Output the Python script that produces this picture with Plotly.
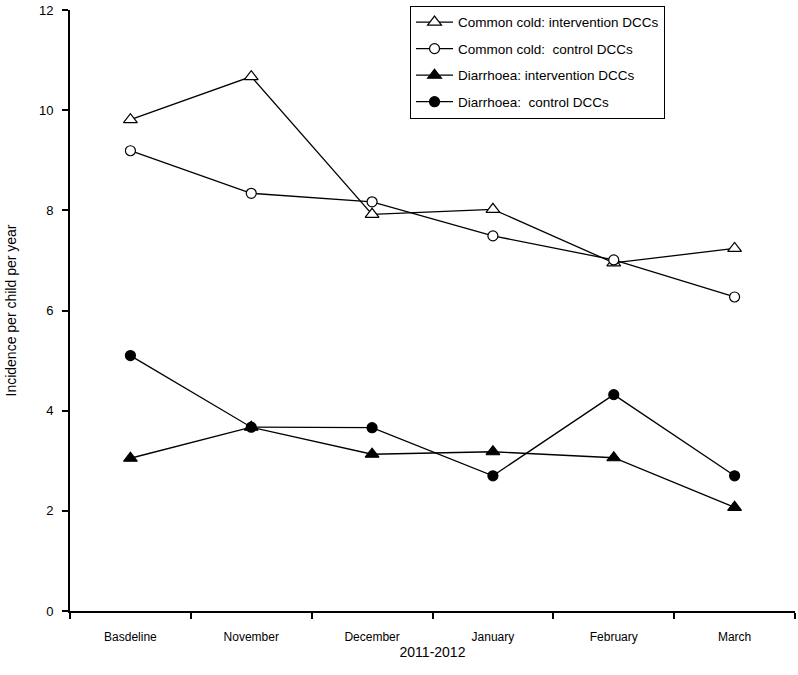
import plotly.graph_objects as go

categories = ["Basdeline", "November", "December", "January", "February", "March"]
cold_intervention = [9.81, 10.67, 7.92, 8.02, 6.95, 7.24]
cold_control = [9.19, 8.34, 8.17, 7.49, 7.01, 6.27]
diarr_intervention = [3.05, 3.67, 3.13, 3.18, 3.06, 2.07]
diarr_control = [5.10, 3.67, 3.66, 2.70, 4.32, 2.70]

series = [
    ("Common cold: intervention DCCs", cold_intervention, "triangle-up", "white", 12),
    ("Common cold:  control DCCs", cold_control, "circle", "white", 10),
    ("Diarrhoea: intervention DCCs", diarr_intervention, "triangle-up", "black", 12),
    ("Diarrhoea:  control DCCs", diarr_control, "circle", "black", 10),
]

FONT = "Liberation Sans, Arial, sans-serif"

fig = go.Figure()
for i, (name, vals, sym, fill, size) in enumerate(series):
    fig.add_trace(go.Scatter(
        x=categories, y=vals, name=name, mode="lines+markers",
        legendgroup=f"g{i}",
        line=dict(color="black", width=1.3),
        marker=dict(symbol=sym, size=size, color=fill, line=dict(color="black", width=1.2)),
    ))

fig.update_layout(
    width=798, height=675,
    margin=dict(l=70, r=3, t=6, b=64),
    plot_bgcolor="white", paper_bgcolor="white",
    font=dict(family=FONT, size=13, color="black"),
    showlegend=True,
    legend=dict(
        x=0.469, y=1.007, xanchor="left", yanchor="top",
        bordercolor="black", borderwidth=1, bgcolor="white",
        font=dict(family=FONT, size=13.5, color="black"),
        tracegroupgap=6, itemwidth=37,
    ),
    xaxis=dict(
        type="category", range=[-0.5, 5.5], tickson="boundaries",
        showline=True, linecolor="black", linewidth=2,
        ticks="outside", ticklen=6, tickwidth=2, tickcolor="black",
        showgrid=False, zeroline=False, ticklabelstandoff=14,
        tickfont=dict(family=FONT, size=12),
        title=dict(text="2011-2012", font=dict(family=FONT, size=14), standoff=3),
    ),
    yaxis=dict(
        range=[0, 12], tickvals=[0, 2, 4, 6, 8, 10, 12],
        showline=True, linecolor="black", linewidth=2,
        ticks="outside", ticklen=6, tickwidth=2, tickcolor="black",
        showgrid=False, zeroline=False, ticklabelstandoff=6,
        ticklabeloverflow="allow",
        tickfont=dict(family=FONT, size=13),
        title=dict(text="Incidence per child per year", font=dict(family=FONT, size=14), standoff=19),
    ),
)

fig.write_html("out.html", config={"displayModeBar": False},
               post_script="document.body.style.margin='0px';")
